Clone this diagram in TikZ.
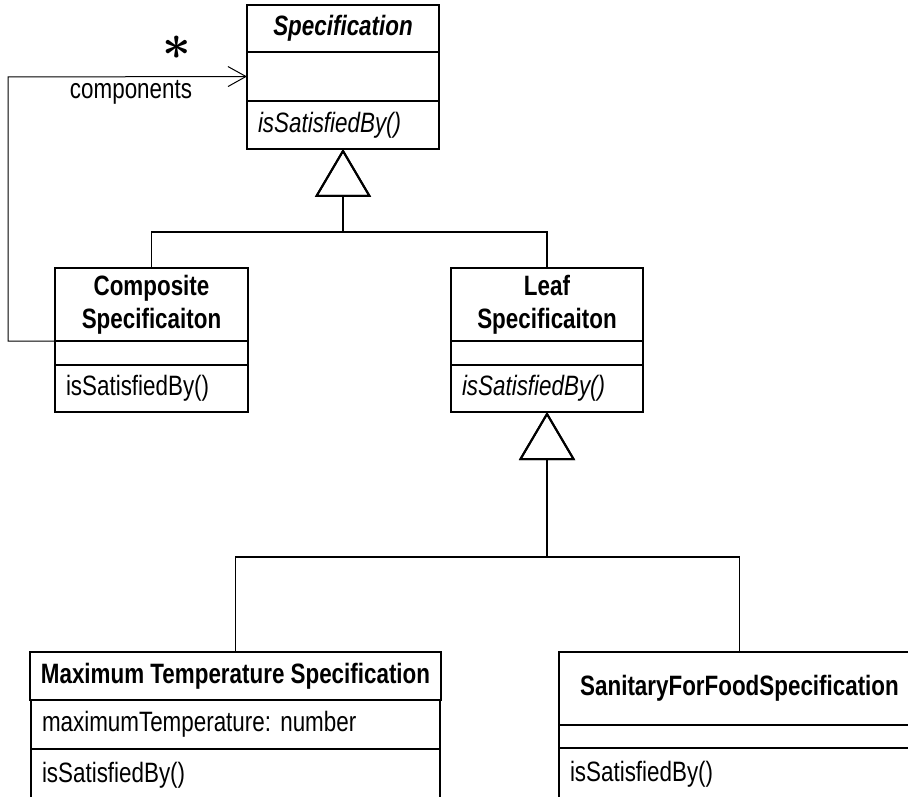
\documentclass[tikz,border=0pt]{standalone}
\usepackage{fontspec}
\setmainfont{Liberation Sans}[FakeStretch=0.8]
\frenchspacing
\usepackage{tikz}
\usetikzlibrary{chains,positioning,arrows.meta}
\newcommand\umlfont{\fontsize{14}{16.5}\selectfont}
\newcommand\multfont{\fontsize{26}{26}\selectfont}
\newcommand\umlclass[9]{% name, top, width, title/attr/ops heights, title, attributes, operations
  \begin{scope}[start chain=#1 going below,node distance=0mm]
    \pgfmathsetlengthmacro\classtw{#3-11pt}
    \node[on chain=#1,classpart,anchor=north,minimum width=#3,minimum height=#4,align=center,font=\umlfont\bfseries] at #2 (#1) {#7};
    \node[on chain=#1,classpart,text width=\classtw,minimum height=#5] (#1_attr) {#8};
    \node[on chain=#1,classpart,text width=\classtw,minimum height=#6] (#1_ops) {#9};
  \end{scope}
}

\begin{document}
\begin{tikzpicture}[x=0.5pt,y=-0.5pt]
		\tikzstyle{classpart}=[draw, line width=1pt, inner xsep=5.5pt, inner ysep=2pt,
				      outer sep=0pt, align=left, font=\umlfont]
		\tikzstyle{genline}=[-{Triangle[open,length=24pt,width=28pt,line width=1pt]}, line width=0.6pt]
		\tikzstyle{assocline}=[-{Straight Barb[length=9pt,width=10pt]}, line width=0.5pt]

\useasboundingbox (0,0) rectangle (908,796);
\clip (0,0) rectangle (908,796);

\umlclass{spec}{(343,5)}{96pt}{23.5pt}{24.5pt}{24pt}{\itshape Specification}{}{\itshape isSatisfiedBy()}
\umlclass{composite}{(151.5,268)}{96.5pt}{36.5pt}{12pt}{23.5pt}{Composite\\Specificaiton}{}{isSatisfiedBy()}
\umlclass{leaf}{(547,268)}{96pt}{36.5pt}{12pt}{23.5pt}{Leaf\\Specificaiton}{}{\itshape isSatisfiedBy()}
\umlclass{maxtemp}{(235.5,652)}{204.5pt}{24pt}{24.5pt}{26pt}{Maximum Temperature Specification}{maximumTemperature: number}{isSatisfiedBy()}
\umlclass{sanitary}{(739.5,652)}{180.5pt}{36.5pt}{11.5pt}{26pt}{SanitaryForFoodSpecification}{}{isSatisfiedBy()}

% generalization
\coordinate (bus_top) at (343,232);
\coordinate (bus_leaf) at (547,557);
\draw[genline] (composite.north) |- (bus_top) -- (spec_ops.south);
\draw[genline] (leaf.north) |- (bus_top) -- (spec_ops.south);
\draw[genline] (maxtemp.north) |- (bus_leaf) -- (leaf_ops.south);
\draw[genline] (sanitary.north) |- (bus_leaf) -- (leaf_ops.south);

% components
\coordinate (loop_left) at (8,77);
\draw[assocline] (composite.south west) -| (loop_left) -- (spec_attr.west);
\node[xshift=-35pt,yshift=14.5pt,font=\multfont] at (spec_attr.west) (mult) {{\boldmath$\ast$}};
\node[xshift=-58pt,yshift=-7.75pt,font=\umlfont] at (spec_attr.west) (role) {components};

\end{tikzpicture}
\end{document}
